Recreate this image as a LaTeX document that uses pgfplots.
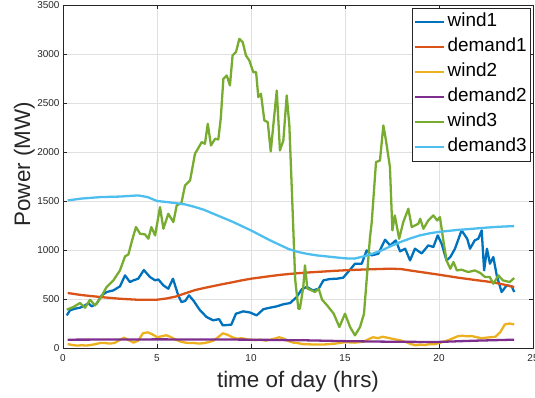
\documentclass[border=0pt]{standalone}
\usepackage{pgfplots}
\pgfplotsset{compat=1.18}
\usepackage{fontspec}
\setmainfont{Liberation Sans}
\definecolor{mA}{rgb}{0,0.447,0.741}
\definecolor{mB}{rgb}{0.85,0.325,0.098}
\definecolor{mC}{rgb}{0.929,0.694,0.125}
\definecolor{mD}{rgb}{0.494,0.184,0.556}
\definecolor{mE}{rgb}{0.466,0.674,0.188}
\definecolor{mF}{rgb}{0.301,0.745,0.933}
\definecolor{axgray}{rgb}{0.15,0.15,0.15}
\begin{document}
\begin{tikzpicture}
\begin{axis}[
  name=ax,
  scale only axis,
  width=470bp, height=343bp,
  xmin=0, xmax=25, ymin=0, ymax=3500,
  xtick={0,5,10,15,20,25},
  ytick={0,500,1000,1500,2000,2500,3000,3500},
  grid=major,
  major grid style={color=black!12, line width=0.5pt},
  axis line style={color=axgray, line width=0.6pt},
  tick style={color=axgray, line width=0.6pt},
  tick align=inside,
  major tick length=4bp,
  ticklabel style={font=\fontsize{10}{12}\selectfont, color=axgray},
  /pgf/number format/assume math mode=true,
  /pgf/number format/1000 sep={},
  xticklabel style={yshift=-3.5bp},
  xlabel={time of day (hrs)},
  ylabel={Power (MW)},
  label style={font=\fontsize{22.5}{26}\selectfont, color=axgray},
  xlabel style={at={(axis description cs:0.5,-0.1166)}, anchor=base},
  ylabel style={at={(axis description cs:-0.0702,0.536)}, anchor=base},
  every axis plot/.append style={line width=2.3pt, line join=round},
  legend cell align=left,
  legend style={
    at={(1,1)}, anchor=north east, xshift=-2bp, yshift=-3bp,
    font=\fontsize{19}{22}\selectfont,
    draw=axgray, line width=0.6pt, fill=white,
    inner sep=1.5bp,
    nodes={text height=13.5bp, text depth=4.3bp, inner ysep=3.6bp, inner xsep=2.6bp},
  },
  legend image code/.code={\draw[#1] (0bp,0bp) -- (29bp,0bp);},
]
% wind1
\addplot[mA] coordinates {(0.2,333)(0.37,384)(0.64,401)(0.9,411)(1.17,435)(1.35,459)(1.52,425)(1.79,452)(2.06,537)(2.32,571)(2.68,588)(3.03,629)(3.3,741)(3.56,673)(3.74,690)(4.0,707)(4.3,795)(4.63,724)(4.9,690)(5.07,700)(5.34,639)(5.6,605)(5.85,707)(6.13,537)(6.3,469)(6.5,480)(6.7,537)(6.93,486)(7.29,384)(7.64,316)(7.99,282)(8.3,295)(8.5,231)(8.95,238)(9.2,350)(9.59,374)(9.95,362)(10.3,333)(10.66,396)(11.0,411)(11.37,425)(11.7,445)(12.08,459)(12.43,520)(12.7,600)(12.96,622)(13.3,588)(13.6,605)(13.85,690)(14.2,704)(14.56,707)(14.9,717)(15.27,799)(15.53,860)(15.89,860)(16.15,996)(16.42,945)(16.77,962)(17.13,1105)(17.4,1047)(17.7,1098)(17.93,986)(18.2,1013)(18.46,894)(18.72,1013)(19.08,965)(19.43,1047)(19.7,1030)(19.93,1149)(20.14,1064)(20.4,894)(20.6,928)(20.85,1013)(21.2,1200)(21.5,1115)(21.65,1013)(21.9,1098)(22.09,1115)(22.27,1200)(22.4,792)(22.55,1013)(22.71,860)(22.89,928)(23.07,741)(23.33,571)(23.6,639)(23.87,629)(24.0,571)};
\addlegendentry{wind1}
% demand1
\addplot[mB] coordinates {(0.25,561)(1,540)(2,520)(3,503)(4,492)(5,493)(5.5,505)(6,525)(6.5,558)(7,590)(7.5,612)(8,632)(8.5,652)(9,670)(9.5,690)(10,707)(10.5,720)(11,733)(11.5,745)(12,755)(12.5,763)(13,770)(13.5,776)(14,782)(14.5,788)(15,793)(15.5,797)(16,801)(16.5,804)(17,807)(17.5,809)(18,805)(18.5,790)(19,776)(19.5,762)(20,748)(20.5,733)(21,718)(21.5,705)(22,692)(22.5,680)(23,665)(23.5,645)(24,622)};
\addlegendentry{demand1}
% wind2
\addplot[mC] coordinates {(0.25,40)(0.5,30)(0.75,25)(1,28)(1.25,25)(1.5,32)(1.75,40)(2,52)(2.25,50)(2.5,45)(2.75,52)(3,80)(3.25,105)(3.5,80)(3.75,55)(4,75)(4.25,150)(4.5,160)(4.75,140)(5,110)(5.25,120)(5.5,130)(5.75,110)(6,85)(6.25,65)(6.5,55)(6.75,50)(7,50)(7.25,45)(7.5,50)(7.75,60)(8,75)(8.25,110)(8.5,150)(8.75,135)(9,110)(9.25,95)(9.5,100)(9.75,90)(10,85)(10.25,80)(10.5,85)(10.75,75)(11,85)(11.25,95)(11.5,110)(11.75,95)(12,70)(12.25,55)(12.5,50)(12.75,40)(13,38)(13.5,35)(14,37)(14.5,45)(15,60)(15.5,55)(16,65)(16.25,90)(16.5,110)(16.75,100)(17,115)(17.25,105)(17.5,95)(17.75,85)(18,75)(18.25,60)(18.5,40)(18.75,28)(19,35)(19.25,30)(19.5,40)(19.75,38)(20,50)(20.25,65)(20.5,80)(20.75,100)(21,120)(21.25,125)(21.5,120)(21.75,122)(22,110)(22.25,100)(22.5,105)(22.75,110)(23,115)(23.25,160)(23.5,240)(23.75,250)(24,240)};
\addlegendentry{wind2}
% demand2
\addplot[mD] coordinates {(0.25,85)(2,86)(5,88)(8,87)(10,85)(12,80)(13,78)(15,70)(17,65)(19,62)(20,62)(22,75)(24,85)};
\addlegendentry{demand2}
% wind3
\addplot[mE] coordinates {(0.2,391)(0.55,418)(0.9,459)(1.17,411)(1.44,493)(1.7,435)(1.97,503)(2.32,622)(2.68,690)(3.03,792)(3.3,935)(3.48,955)(3.65,1081)(3.88,1234)(4.1,1166)(4.36,1159)(4.54,1115)(4.7,1234)(4.9,1149)(5.16,1438)(5.34,1217)(5.6,1370)(5.87,1285)(6.05,1455)(6.3,1480)(6.49,1659)(6.76,1710)(7.02,1982)(7.38,2101)(7.55,2084)(7.7,2288)(7.87,2067)(8.09,2135)(8.26,2128)(8.39,2339)(8.53,2747)(8.71,2781)(8.88,2679)(9.02,2985)(9.2,3019)(9.38,3155)(9.56,3121)(9.73,2985)(9.91,2934)(10.12,2815)(10.27,2815)(10.39,2560)(10.53,2594)(10.71,2322)(10.89,2305)(11.05,2006)(11.37,2628)(11.54,2016)(11.72,2118)(11.9,2577)(12.04,2271)(12.2,1472)(12.35,700)(12.52,401)(12.6,401)(12.78,622)(12.87,843)(13.0,605)(13.23,588)(13.4,571)(13.6,605)(13.78,493)(14.05,435)(14.4,350)(14.7,214)(15.0,350)(15.27,214)(15.53,129)(15.8,214)(16.01,350)(16.15,690)(16.33,1132)(16.42,1280)(16.65,1897)(16.86,1914)(17.04,2271)(17.18,2118)(17.39,1846)(17.52,1200)(17.65,1353)(17.88,1115)(18.1,1285)(18.37,1421)(18.55,1234)(18.9,1268)(19.0,1319)(19.17,1217)(19.43,1302)(19.7,1353)(19.9,1302)(20.05,1336)(20.23,1098)(20.4,894)(20.6,809)(20.77,877)(20.95,792)(21.2,799)(21.56,775)(21.9,792)(22.2,765)(22.45,724)(22.7,724)(22.89,656)(23.16,741)(23.4,690)(23.76,673)(24.0,714)};
\addlegendentry{wind3}
% demand3
\addplot[mF] coordinates {(0.25,1506)(1,1525)(2,1540)(3,1545)(4,1557)(4.5,1540)(5,1500)(5.5,1490)(6,1478)(6.5,1465)(7,1440)(7.5,1410)(8,1370)(8.5,1330)(9,1290)(9.5,1245)(10,1200)(10.5,1150)(11,1100)(11.5,1055)(12,1010)(12.5,980)(13,960)(13.5,945)(14,935)(14.5,925)(15,915)(15.5,912)(16,935)(16.5,965)(17,1000)(17.5,1045)(18,1085)(18.5,1120)(19,1150)(19.5,1170)(20,1185)(20.5,1195)(21,1205)(21.5,1212)(22,1220)(22.5,1228)(23,1235)(23.5,1240)(24,1244)};
\addlegendentry{demand3}
\end{axis}
\pgfresetboundingbox
\path[use as bounding box] ([xshift=-63bp,yshift=-50bp]ax.south west) rectangle ([xshift=2bp,yshift=5bp]ax.north east);
\end{tikzpicture}
\end{document}
